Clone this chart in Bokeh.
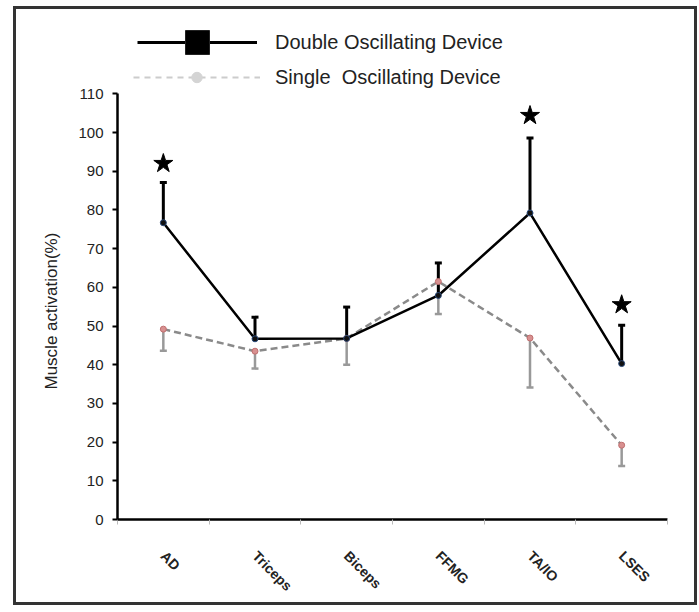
import math
from bokeh.plotting import figure
from bokeh.layouts import column
from bokeh.models import (Range1d, FixedTicker, Whisker, TeeHead, ColumnDataSource,
                          Legend, LegendItem, Title)
from bokeh.embed import file_html
from bokeh.resources import INLINE

# ---- data ----
categories = ["AD", "Triceps", "Biceps", "FFMG", "TA/IO", "LSES"]
double_mean = [76.7, 46.7, 46.8, 57.9, 79.2, 40.3]
double_upper = [87.1, 52.3, 54.9, 66.3, 98.6, 50.2]
single_mean = [49.2, 43.5, 46.8, 61.5, 46.9, 19.2]
single_lower = [43.6, 39.0, 40.0, 53.1, 34.1, 13.8]
star_cats = ["AD", "TA/IO", "LSES"]
star_y = [92.0, 104.4, 55.5]
y_ticks = [0, 10, 20, 30, 40, 50, 60, 70, 80, 90, 100, 110]

FONT = "Liberation Sans"

xpos = [i + 0.5 for i in range(len(categories))]
star_x = [categories.index(c) + 0.5 for c in star_cats]

# figure inside a bordered box whose content starts at page (16, 9)
W, H = 678, 593
frame_top = 5        # local px  (page 14)
frame_bottom = 514   # local px  (page 523)
px_per_unit = 3.9    # 10 units = 39 px
y_end = (frame_bottom - frame_top) / px_per_unit

p = figure(width=W, height=H, output_backend="svg", toolbar_location=None,
           x_range=Range1d(0, len(categories)), y_range=Range1d(0, y_end),
           min_border_left=101, min_border_right=27, min_border_top=frame_top,
           min_border_bottom=H - frame_bottom)
p.outline_line_color = None
p.grid.visible = False
p.background_fill_color = "white"
p.border_fill_color = "white"
# a range far away from the data: renderers on it are clipped, only their legend glyph shows
p.extra_y_ranges = {"legend_only": Range1d(1000, 1100)}

# y axis
ya = p.yaxis[0]
ya.ticker = FixedTicker(ticks=y_ticks)
ya.bounds = (0, 110)
ya.axis_line_width = 2.5
ya.axis_line_color = "black"
ya.major_tick_line_width = 2
ya.major_tick_out = 5
ya.major_tick_in = 0
ya.minor_tick_line_color = None
ya.major_label_text_font = FONT
ya.major_label_text_font_size = "15px"
ya.major_label_text_color = "#222222"
ya.major_label_standoff = 9

# y axis title, centred on the 0-110 part of the axis
p.add_layout(Title(text="Muscle activation(%)", align="left", offset=130,
                   text_font=FONT, text_font_size="17px", text_font_style="normal",
                   text_color="#222222", standoff=30), "left")

# x axis
xa = p.xaxis[0]
xa.ticker = FixedTicker(ticks=xpos, minor_ticks=list(range(len(categories) + 1)))
xa.major_label_overrides = {x: c for x, c in zip(xpos, categories)}
xa.major_tick_line_color = None
xa.minor_tick_line_color = "#bbbbbb"
xa.minor_tick_out = 5
xa.minor_tick_in = 0
xa.axis_line_width = 2.5
xa.axis_line_color = "black"
xa.major_label_orientation = -math.pi / 4
xa.major_label_text_font = FONT
xa.major_label_text_font_size = "14px"
xa.major_label_text_font_style = "bold"
xa.major_label_text_color = "#222222"
xa.major_label_standoff = 28

src_d = ColumnDataSource(dict(x=xpos, m=double_mean, u=double_upper))
src_s = ColumnDataSource(dict(x=xpos, m=single_mean, l=single_lower))

# single series
p.add_layout(Whisker(source=src_s, base="x", upper="m", lower="l", dimension="height",
                     line_color="#999999", line_width=2.5, upper_head=None,
                     lower_head=TeeHead(size=7, line_color="#999999", line_width=2.5)))
p.line("x", "m", source=src_s, line_color="#8a8a8a", line_width=2.5, line_dash="7 4")
p.scatter("x", "m", source=src_s, marker="circle", size=6,
          fill_color="#d89090", line_color="#c07070", line_width=1)

# double series
p.add_layout(Whisker(source=src_d, base="x", upper="u", lower="m", dimension="height",
                     line_color="black", line_width=3, lower_head=None,
                     upper_head=TeeHead(size=7, line_color="black", line_width=3)))
p.line("x", "m", source=src_d, line_color="black", line_width=2.5)
p.scatter("x", "m", source=src_d, marker="circle", size=6,
          fill_color="#111111", line_color="#2a4a7a", line_width=1)

# significance stars
p.scatter(star_x, star_y, marker="star", size=20, fill_color="black", line_color="black")

# legend glyphs (drawn on the far-away range, so only the legend shows them)
l1 = p.segment(x0="x", y0="m", x1="x", y1="m", source=src_d, y_range_name="legend_only",
               line_color="black", line_width=3)
s1 = p.scatter("x", "m", source=src_d, y_range_name="legend_only", marker="square", size=24,
               fill_color="black", line_color="#222222")
l2 = p.segment(x0="x", y0="m", x1="x", y1="m", source=src_s, y_range_name="legend_only",
               line_color="#cccccc", line_width=2, line_dash="6 5")
s2 = p.scatter("x", "m", source=src_s, y_range_name="legend_only", marker="circle", size=10,
               fill_color="#d4d4d4", line_color="#d4d4d4")

# frame bottom is page y 523; legend 1 spans page y 16-76, legend 2 page y 68-94
leg1 = Legend(items=[LegendItem(label="Double Oscillating Device", renderers=[l1, s1])],
              location=(20, 523 - 76), glyph_width=120, glyph_height=60,
              label_standoff=18, padding=0, margin=0, border_line_color=None,
              background_fill_alpha=0, label_text_font=FONT, label_text_font_size="20px",
              label_text_color="#222222")
leg2 = Legend(items=[LegendItem(label="Single  Oscillating Device", renderers=[l2, s2])],
              location=(16, 523 - 94), glyph_width=127, glyph_height=26,
              label_standoff=15, padding=0, margin=0, border_line_color=None,
              background_fill_alpha=0, label_text_font=FONT, label_text_font_size="20px",
              label_text_color="#222222")
p.add_layout(leg1, "center")
p.add_layout(leg2, "center")

root = column(p, margin=(6, 0, 0, 13),
              styles={"border": "3px solid #333333", "background-color": "white"})

open("out.html", "w").write(file_html(root, INLINE))
